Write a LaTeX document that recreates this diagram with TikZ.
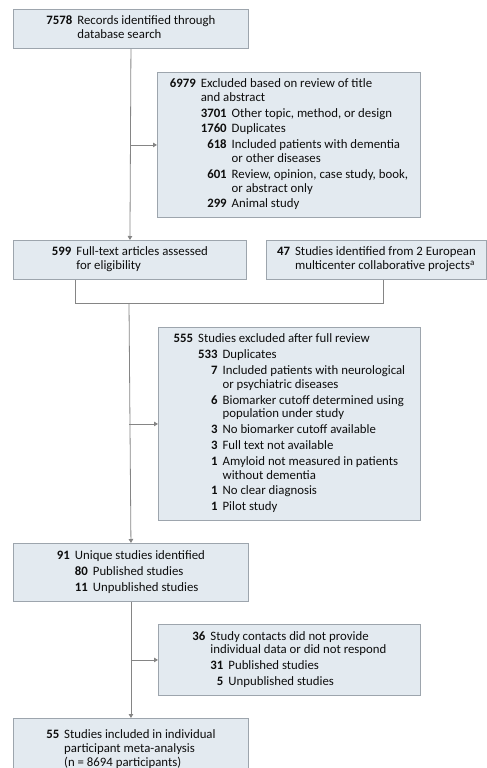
\documentclass[tikz,border=0pt]{standalone}
\usepackage{fontspec}
\setmainfont{Carlito}
\usetikzlibrary{arrows.meta}

\definecolor{boxfill}{HTML}{E3EAF0}
\definecolor{boxline}{HTML}{9DA5AD}
\definecolor{connline}{HTML}{858585}

\newcommand{\nb}[1]{\textbf{#1}}
\newcommand{\both}[1]{\multicolumn{2}{@{}l@{}}{#1}}

\begin{document}
\begin{tikzpicture}[x=1pt,y=-1pt,
        box/.style={draw=boxline,fill=boxfill,line width=0.9pt,anchor=north west,
            inner sep=0pt,font=\fontsize{12.8}{13.8}\selectfont,text=black!95},
        conn/.style={draw=connline,line width=0.8pt},
        arr/.style={conn,-{Triangle[length=4pt,width=4.5pt]}}]
\useasboundingbox (0,0) rectangle (487,768);

\node[box,minimum width=235pt,minimum height=39pt] (records) at (13,9)
    {\begin{tabular}{@{}r@{\hspace{5pt}}l@{}}
     \nb{7578} & Records identified through\\
               & database search
     \end{tabular}};

\node[box,minimum width=263pt,minimum height=145pt] (screen) at (157,72)
    {\begin{tabular}{@{}r@{\hspace{5pt}}r@{\hspace{5pt}}l@{}}
     \nb{6979} & \both{Excluded based on review of title}\\
               & \both{and abstract}\\[2pt]
     & \nb{3701} & Other topic, method, or design\\[2pt]
     & \nb{1760} & Duplicates\\[2pt]
     & \nb{618}  & Included patients with dementia\\
     &           & or other diseases\\[2pt]
     & \nb{601}  & Review, opinion, case study, book,\\
     &           & or abstract only\\[2pt]
     & \nb{299}  & Animal study
     \end{tabular}};

\node[box,minimum width=233pt,minimum height=39pt] (fulltext) at (13,240)
    {\begin{tabular}{@{}r@{\hspace{5pt}}l@{}}
     \nb{599} & Full-text articles assessed\\
              & for eligibility
     \end{tabular}};

\node[box,minimum width=220pt,minimum height=39pt] (european) at (266,240)
    {\begin{tabular}{@{}r@{\hspace{5pt}}l@{}}
     \nb{47} & Studies identified from 2 European\\
             & multicenter collaborative projects\textsuperscript{a}
     \end{tabular}};

\coordinate (merge) at (129,303);

\node[box,minimum width=262pt,minimum height=193pt] (fullrev) at (158,327)
    {\begin{tabular}{@{}r@{\hspace{5pt}}r@{\hspace{5pt}}l@{}}
     \nb{555} & \both{Studies excluded after full review}\\[2pt]
     & \nb{533} & Duplicates\\[2pt]
     & \nb{7}   & Included patients with neurological\\
     &          & or psychiatric diseases\\[2pt]
     & \nb{6}   & Biomarker cutoff determined using\\
     &          & population under study\\[2pt]
     & \nb{3}   & No biomarker cutoff available\\[2pt]
     & \nb{3}   & Full text not available\\[2pt]
     & \nb{1}   & Amyloid not measured in patients\\
     &          & without dementia\\[2pt]
     & \nb{1}   & No clear diagnosis\\[2pt]
     & \nb{1}   & Pilot study
     \end{tabular}};

\node[box,minimum width=235pt,minimum height=58pt] (unique) at (13,543)
    {\begin{tabular}{@{}r@{\hspace{5pt}}r@{\hspace{5pt}}l@{}}
     \nb{91} & \both{Unique studies identified}\\[2pt]
     & \nb{80} & Published studies\\[2pt]
     & \nb{11} & Unpublished studies
     \end{tabular}};

\node[box,minimum width=262pt,minimum height=71pt] (nodata) at (158,624)
    {\begin{tabular}{@{}r@{\hspace{5pt}}r@{\hspace{5pt}}l@{}}
     \nb{36} & \both{Study contacts did not provide}\\
             & \both{individual data or did not respond}\\[2pt]
     & \nb{31} & Published studies\\[2pt]
     & \nb{5}  & Unpublished studies
     \end{tabular}};

\node[box,minimum width=235pt,minimum height=62pt] (included) at (13,718)
    {\begin{tabular}{@{}r@{\hspace{5pt}}l@{}}
     \nb{55} & Studies included in individual\\
             & participant meta-analysis\\
             & (n = 8694 participants)
     \end{tabular}};

% main stream
\draw[arr] (records.south) -- (fulltext.north);
\draw[arr] (records.south |- screen.west) -- (screen.west);

% join the two sources
\draw[conn] ([xshift=-55pt]fulltext.south) |- (merge);
\draw[conn] (merge) -| ([xshift=7pt]european.south);
\draw[arr] (merge) -- (unique.north);
\draw[arr] (merge |- fullrev.west) -- (fullrev.west);

\draw[arr] (unique.south) -- (included.north);
\draw[arr] (unique.south |- nodata.west) -- (nodata.west);

\end{tikzpicture}
\end{document}
